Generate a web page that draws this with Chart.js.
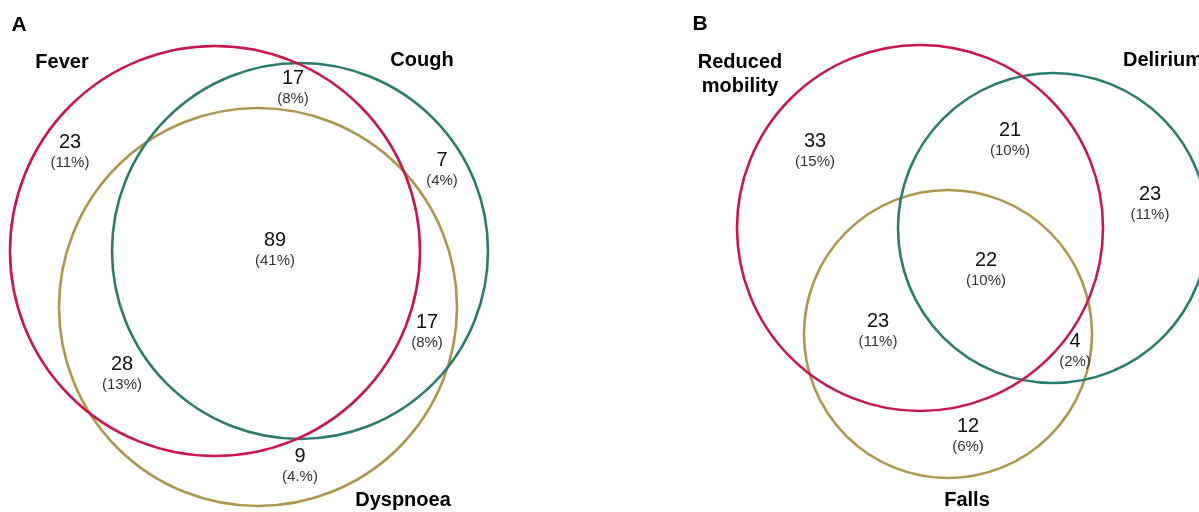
<!DOCTYPE html>
<html>
<head>
<meta charset="utf-8">
<script src="https://cdn.jsdelivr.net/npm/chart.js@4.4.1/dist/chart.umd.min.js"></script>
<style>
  html, body { margin: 0; padding: 0; background: #fff; }
  #wrap { position: relative; width: 1199px; height: 512px; }
</style>
</head>
<body>
<div id="wrap"><canvas id="venn"></canvas></div>
<script>
// Venn circles (A: Fever / Cough / Dyspnoea, B: Reduced mobility / Delirium / Falls)
const setNames = ['Fever', 'Cough', 'Dyspnoea', 'Reduced mobility', 'Delirium', 'Falls'];
const circleX = [215, 300, 258, 920, 1053, 948];
const circleY = [251, 251, 307, 228, 228, 334];
const circleR = [205, 188, 199, 183, 155, 144];
const circleColors = ['#C8174A', '#2D7B6C', '#AD964F', '#C8174A', '#2D7B6C', '#AD964F'];

// set name labels
const nameLines = [['Fever'], ['Cough'], ['Dyspnoea'], ['Reduced', 'mobility'], ['Delirium'], ['Falls']];
const nameX = [62, 422, 403, 740, 1123, 967];
const nameY = [62, 60, 500, 62, 60, 500];
const nameAlign = ['center', 'center', 'center', 'center', 'left', 'center'];

// region counts and shares
const regionCounts = [23, 17, 7, 89, 17, 28, 9, 33, 21, 23, 22, 23, 4, 12];
const regionShares = ['11%', '8%', '4%', '41%', '8%', '13%', '4.%', '15%', '10%', '11%', '10%', '11%', '2%', '6%'];
const regionX = [70, 293, 442, 275, 427, 122, 300, 815, 1010, 1150, 986, 878, 1075, 968];
const regionY = [142, 78, 160, 240, 322, 364, 456, 141, 130, 194, 260, 321, 341, 426];

// panel letters
const panelLetters = ['A', 'B'];
const panelX = [19, 700];
const panelY = [25, 24];

const FONT = '"Liberation Sans", Arial, sans-serif';

const textPlugin = {
  id: 'vennText',
  afterDatasetsDraw(chart) {
    const c = chart.ctx;
    const sx = chart.scales.x, sy = chart.scales.y;
    c.save();
    c.textBaseline = 'middle';

    c.fillStyle = '#000';
    c.textAlign = 'center';
    c.font = 'bold 21px ' + FONT;
    panelLetters.forEach((t, i) => c.fillText(t, sx.getPixelForValue(panelX[i]), sy.getPixelForValue(panelY[i])));

    c.font = 'bold 20px ' + FONT;
    nameLines.forEach((lines, i) => {
      c.textAlign = nameAlign[i];
      lines.forEach((line, j) => {
        c.fillText(line, sx.getPixelForValue(nameX[i]), sy.getPixelForValue(nameY[i]) + j * 24);
      });
    });

    c.textAlign = 'center';
    regionCounts.forEach((n, i) => {
      const px = sx.getPixelForValue(regionX[i]);
      const py = sy.getPixelForValue(regionY[i]);
      c.fillStyle = '#111';
      c.font = '20px ' + FONT;
      c.fillText(String(n), px, py);
      c.fillStyle = '#333';
      c.font = '15px ' + FONT;
      c.fillText('(' + regionShares[i] + ')', px, py + 21);
    });
    c.restore();
  }
};

const ctx = document.getElementById('venn').getContext('2d');
const venn = new Chart(ctx, {
  type: 'scatter',
  data: {
    datasets: setNames.map((name, i) => ({
      label: name,
      data: [{ x: circleX[i], y: circleY[i] }],
      pointRadius: (context) => {
        const sx = context.chart.scales.x;
        return Math.abs(sx.getPixelForValue(circleX[i] + circleR[i]) - sx.getPixelForValue(circleX[i]));
      },
      pointBorderColor: circleColors[i],
      pointBackgroundColor: 'rgba(0,0,0,0)',
      pointBorderWidth: 2.6,
      clip: false
    }))
  },
  options: {
    responsive: true,
    maintainAspectRatio: false,
    animation: false,
    events: [],
    layout: { padding: 0 },
    plugins: {
      legend: { display: false },
      tooltip: { enabled: false }
    },
    scales: {
      x: { type: 'linear', min: 0, max: 1199, display: false },
      y: { type: 'linear', min: 0, max: 512, reverse: true, display: false }
    }
  },
  plugins: [textPlugin]
});
</script>
</body>
</html>
